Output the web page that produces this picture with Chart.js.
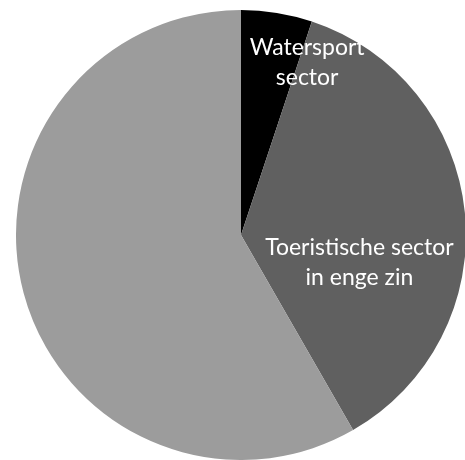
<!DOCTYPE html>
<html>
<head>
<meta charset="utf-8">
<script src="https://cdn.jsdelivr.net/npm/chart.js@4"></script>
<style>
  html, body { margin: 0; padding: 0; background: #fff; overflow: hidden; }
  #wrap { position: absolute; left: 16px; top: 10px; width: 450px; height: 450px; }
</style>
</head>
<body>
<div id="wrap"><canvas id="pie-chart"></canvas></div>
<script>
// data (share in %)
const labels = [['Watersport', 'sector'], ['Toeristische sector', 'in enge zin'], ''];
const values = [5.1, 36.6, 58.3];
const colors = ['#000000', '#606060', '#9c9c9c'];

// label placement: angle (deg, clockwise from top) and radius fraction
const labelPos = [{ a: 21, r: 0.82 }, { a: 103, r: 0.54 }, null];

const sliceLabels = {
    id: 'sliceLabels',
    afterDatasetsDraw(chart) {
        const c = chart.ctx;
        const arc = chart.getDatasetMeta(0).data[0];
        const cx = arc.x, cy = arc.y, R = arc.outerRadius;
        c.save();
        c.fillStyle = '#ffffff';
        c.font = '23px Lato';
        c.textAlign = 'center';
        c.textBaseline = 'middle';
        labels.forEach((lines, i) => {
            const p = labelPos[i];
            if (!p || !lines) return;
            const ang = (p.a - 90) * Math.PI / 180;
            const x = cx + Math.cos(ang) * R * p.r;
            const y = cy + Math.sin(ang) * R * p.r;
            const lh = 30;
            lines.forEach((t, j) => {
                c.fillText(t, x, y + (j - (lines.length - 1) / 2) * lh);
            });
        });
        c.restore();
    }
};

const ctx = document.getElementById('pie-chart').getContext('2d');
new Chart(ctx, {
    type: 'pie',
    data: {
        labels: labels.map(l => Array.isArray(l) ? l.join(' ') : l),
        datasets: [{
            data: values,
            backgroundColor: colors,
            borderWidth: 0
        }]
    },
    options: {
        responsive: true,
        maintainAspectRatio: false,
        animation: false,
        layout: { padding: 0 },
        plugins: {
            legend: { display: false },
            tooltip: { enabled: false }
        }
    },
    plugins: [sliceLabels]
});
</script>
</body>
</html>
